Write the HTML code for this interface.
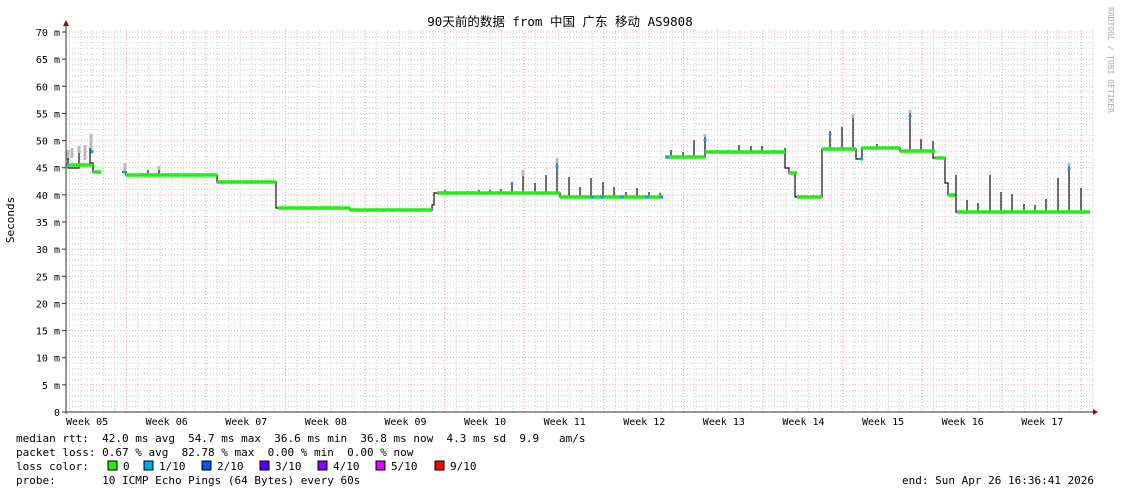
<!DOCTYPE html>
<html><head><meta charset="utf-8"><style>
body{margin:0;background:#fff;width:1121px;height:494px;overflow:hidden}
svg{display:block}
text{font-family:"DejaVu Sans Mono","Liberation Mono","Noto Sans CJK SC",monospace;font-size:11px;fill:#000;white-space:pre}
</style></head><body>
<svg id="s" width="1121" height="494" xmlns="http://www.w3.org/2000/svg" xml:space="preserve">
<rect width="1121" height="494" fill="#fff"/>
<g id="grid"></g>
<text x="560" y="26" text-anchor="middle" style="font-size:12.5px;font-family:'DejaVu Sans Mono','Noto Sans CJK SC',monospace">90天前的数据 from 中国 广东 移动 AS9808</text>
<text transform="translate(14,220) rotate(-90)" text-anchor="middle">Seconds</text>
<text transform="translate(1108,60) rotate(90)" text-anchor="middle" style="font-size:8px;fill:#aaa">RRDTOOL / TOBI OETIKER</text>
<g id="ylab"></g>
<g id="xlab"></g>
<path fill="none" stroke="#bbb" stroke-width="3" d="M68,160 V150 M72,158 V148 M79,153 V146 M85,160 V145 M91,150 V134 M125,170 V163 M159,170 V166 M523,176 V170 M557,163 V158 M705,137 V134 M853,118 V114 M910,113 V110 M1069,166 V163"/>
<path fill="none" stroke="#111" stroke-width="1.2" d="M66,165 H68 V158 V168 H79 V153 V165 H90 V148 V163 H93 V172 H101
M122,172 H126 V175 H148 V170 V175 H159 V170 V175 H217 V182 H276 V203 V208 H350 V210 H432 V205 H434 V193 H445 V190 V193 H468 V191 V193 H479 V190 V193 H490 V190 V193 H501 V189 V193 H512 V182 V193 H523 V176 V193 H535 V183 V193 H546 V175 V193 H557 V163 V193 H560 V197 H569 V177 V197 H580 V187 V197 H591 V178 V197 H603 V182 V197 H614 V187 V197 H626 V192 V197 H637 V188 V197 H649 V192 V197 H660 V193 V197 H663
M665,157 H671 V150 V157 H683 V152 V157 H694 V140 V157 H705 V137 V152 H717 V150 V152 H728 V150 V152 H739 V145 V152 H751 V146 V152 H762 V146 V152 H774 V150 V152 H785 V148 V168 H789 V173 H795 V196 V197 H822 V182 V149 H830 V131 V149 H842 V127 V149 H853 V118 V149 H856 V159 H862 V148 H877 V144 V148 H900 V151 H910 V113 V151 H921 V139 V151 H933 V141 V158 H945 V183 H948 V195 H956 V175 V212 H967 V200 V212 H978 V203 V212 H990 V175 V212 H1001 V192 V212 H1012 V194 V212 H1024 V204 V212 H1035 V205 V212 H1046 V199 V212 H1058 V178 V212 H1069 V166 V212 H1081 V188 V212 H1090"/>
<path fill="none" stroke="#22ee11" stroke-width="3.5" d="M66,165 H93 M93,172 H101 M126,175 H217 M217,182 H276 M278,208 H350 M350,210 H432 M437,193 H560 M560,197 H663 M665,157 H705 M705,152 H785 M789,173 H797 M797,197 H822 M822,149 H856 M862,148 H900 M900,151 H935 M935,158 H945 M948,195 H955 M957,212 H1090"/>
<path fill="none" stroke="#00aaee" stroke-width="3" d="M67,163 v2 M92,150 v3 M123,172 h3 M512,183 v2 M557,165 v2 M590,197 h4 M660,197 h3 M666,157 h3 M705,139 v2 M830,133 v2 M860,159 h3 M910,115 v2 M1069,168 v2 M600,197 h4 M620,197 h4 M645,197 h4"/>
<line x1="66" y1="24" x2="66" y2="414" stroke="#333"/>
<line x1="62" y1="412" x2="1094" y2="412" stroke="#333"/>
<path d="M63,26 L69,26 L66,20 Z" fill="#a00"/>
<path d="M1093,409 L1093,415 L1098,412 Z" fill="#a00"/>
<text x="16" y="442">median rtt:  42.0 ms avg  54.7 ms max  36.6 ms min  36.8 ms now  4.3 ms sd  9.9   am/s</text>
<text x="16" y="456">packet loss: 0.67 % avg  82.78 % max  0.00 % min  0.00 % now</text>
<text x="16" y="470">loss color:</text>
<g id="leg"></g>
<text x="16" y="484">probe:       10 ICMP Echo Pings (64 Bytes) every 60s</text>
<text x="902" y="484">end: Sun Apr 26 16:36:41 2026</text>
</svg>
<script>
var NS="http://www.w3.org/2000/svg";
function el(p,t,a,tx){var e=document.createElementNS(NS,t);for(var k in a)e.setAttribute(k,a[k]);if(tx)e.textContent=tx;document.getElementById(p).appendChild(e);}
var g="grid";
for(var v=1;v<=70;v++){var y=412-v*380/70;if(v%5)el(g,"line",{x1:66,x2:1093,y1:y,y2:y,stroke:"#ccc","stroke-dasharray":"1,2"});}
for(var x=126.3-11.37*5;x<1093;x+=11.37){el(g,"line",{x1:x,x2:x,y1:30,y2:412,stroke:"#ccc","stroke-dasharray":"1,2"});}
for(var v=5;v<=70;v+=5){var y=412-v*380/70;el(g,"line",{x1:66,x2:1093,y1:y,y2:y,stroke:"#f4a0a0","stroke-dasharray":"1,2"});}
for(var i=0;i<13;i++){var x=126.3+i*79.6;el(g,"line",{x1:x,x2:x,y1:30,y2:412,stroke:"#f4a0a0","stroke-dasharray":"1,2"});}
for(var v=0;v<=70;v+=5){var y=412-v*380/70;el("ylab","text",{x:60,y:y+4,"text-anchor":"end",style:"font-size:10px"},v?v+" m":"0");el(g,"line",{x1:62,x2:66,y1:y,y2:y,stroke:"#333"});}
var w=["05","06","07","08","09","10","11","12","13","14","15","16","17"];
for(var i=0;i<13;i++){el("xlab","text",{x:66+i*79.6,y:425,style:"font-size:10px"},"Week "+w[i]);}
var L=[["#22ee11","0"],["#00aaee","1/10"],["#0055ff","2/10"],["#5500ff","3/10"],["#8800ff","4/10"],["#dd00ff","5/10"],["#ff0000","9/10"]];
var xs=[108,144,202,260,318,376,435];
for(var i=0;i<7;i++){el("leg","rect",{x:xs[i],y:461,width:9,height:9,fill:L[i][0],stroke:"#000"});el("leg","text",{x:xs[i]+15,y:470},L[i][1]);}
</script>
</body></html>
